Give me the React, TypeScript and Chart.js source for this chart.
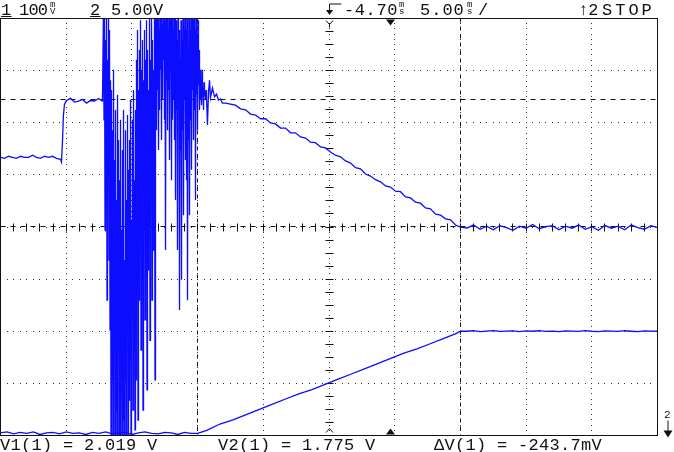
import React, { useEffect, useRef } from "react";
import { Chart, registerables } from "chart.js";
Chart.register(...registerables);

// ---- scope settings ----
const timeRange = [-29.7, 20.3]; // ms : delay -4.70 ms at centre, 5.00 ms/div
const msPerDiv = 5;
const timeDivs = 10;
const voltDivs = 8;
const ch1Range = [1.3753, 2.1753]; // V : 100 mV/div
const ch2Range = [5, 45]; // V : 5.00 V/div (ground below screen)

const voltCursors = [2.019, 1.7753]; // V1, V2 on channel 1
const timeCursors = [-14.7, 5.3]; // ms
const triggerTime = [0];
const centreTime = [-4.7];

// ---- channel 1: before the burst ----
const ch1PreTime = [
  -29.7, -29.4, -29.09, -28.79, -28.48, -28.18, -27.87, -27.57, -27.26, -26.96, -26.66, -26.35, -26.05, -25.74, -25.44, -25.13,
  -25.06, -24.98, -24.91, -24.83, -24.68,
  -24.37, -24.07, -23.76, -23.46, -23.15, -22.85, -22.55, -22.24, -21.94,
];
const ch1PreVolt = [
  1.909, 1.907, 1.911, 1.909, 1.907, 1.911, 1.909, 1.909, 1.913, 1.909, 1.907, 1.911, 1.909, 1.911, 1.907, 1.905,
  1.9, 1.942, 1.99, 2.011, 2.018,
  2.022, 2.015, 2.017, 2.02, 2.013, 2.018, 2.017, 2.022, 2.017,
];

// ---- channel 1: burst, sampled every 0.038 ms from -21.86 ms ----
const burstStart = -21.861;
const burstInterval = 0.038052;
const burstVolt = [
  2.201, 1.981, 2.192, 1.77, 2.134, 1.865, 2.201, 1.635, 2.096, 1.923, 2.192, 1.712, 2.153, 1.578, 2.057,
  1.367, 2.038, 1.482, 1.961, 1.357, 2.077, 1.635, 1.904, 1.367, 2.0, 1.424, 1.827,
  1.357, 2.029, 1.539, 1.942, 1.367, 1.865, 1.357, 1.981, 1.463, 1.77, 1.357, 1.923,
  1.405, 2.0, 1.357, 1.712, 1.482, 1.961, 1.367, 1.827, 1.578, 1.99, 1.357, 1.885, 1.443,
  1.942, 1.52, 2.019, 1.367, 1.789, 1.635, 1.981, 1.424, 2.038, 1.539, 1.865, 1.386, 2.0,
  1.482, 2.096, 1.731, 2.153, 1.405, 2.038, 1.635, 2.115, 1.827, 2.172,
  1.539, 2.077, 1.712, 2.134, 1.424, 2.057, 1.77, 2.153, 1.597, 2.096,
  1.865, 2.172, 1.463, 2.115, 1.693, 2.038, 1.789, 2.192, 1.558, 2.096,
  1.923, 2.201, 1.635, 2.134, 1.731, 2.077, 1.827, 2.192, 1.482, 2.115,
  2.201, 1.961, 2.172, 2.038, 2.201, 1.923, 2.153, 2.0, 2.192, 2.077,
  2.201, 1.942, 2.163, 2.019, 2.192, 2.096, 2.201, 1.981, 2.172, 1.731,
  2.192, 2.057, 2.201, 1.961, 2.153, 2.038, 2.201, 1.904, 2.172, 2.077,
  2.192, 1.865, 2.201, 1.981, 2.153, 2.019, 2.192, 1.942, 2.201, 1.827,
  2.172, 2.0, 2.134, 1.731, 2.192, 2.038, 2.153, 1.616, 2.096, 1.923,
  2.172, 1.674, 2.134, 1.961, 2.192, 1.798, 2.153, 2.019, 2.201, 1.904,
  2.153, 1.865, 2.192, 1.635, 2.115, 1.942, 2.201, 1.798, 2.153, 1.981,
  2.192, 1.885, 2.201, 2.038, 2.172, 1.942, 2.201, 2.0, 2.153, 1.827,
  2.192, 2.029, 2.134, 1.961, 2.172, 2.048, 2.115, 2.0, 2.077, 2.019,
  2.057, 2.009, 2.077, 2.023, 2.042, 2.0, 2.053, 2.027, 2.034, 2.019, 2.038, 2.025,
];

// ---- channel 1: after the burst ----
const ch1PostTime = [
  -13.95, -13.87, -13.79, -13.72, -13.57, -13.41, -13.26, -13.11, -12.96, -12.81,
  -12.58, -12.2, -11.82, -11.43, -11.05, -10.67, -10.29, -9.91, -9.53, -9.15, -8.77, -8.39, -8.01, -7.63, -7.25, -6.87,
  -6.49, -6.11, -5.73, -5.35, -4.97, -4.59, -4.21, -3.83, -3.44, -3.06, -2.68, -2.3, -1.92, -1.54, -1.16, -0.78,
  -0.4, -0.02, 0.36, 0.74, 1.12, 1.5, 1.88, 2.26, 2.64, 3.02, 3.41, 3.79, 4.17, 4.55, 4.93, 5.3,
  5.8, 6.3, 6.8, 7.3, 7.8, 8.3, 8.8, 9.3, 9.8, 10.3, 10.8, 11.3, 11.8, 12.3, 12.8,
  13.3, 13.8, 14.3, 14.8, 15.3, 15.8, 16.3, 16.8, 17.3, 17.8, 18.3, 18.8, 19.3, 19.8, 20.3,
];
const ch1PostVolt = [
  1.971, 2.034, 2.057, 2.023, 2.042, 2.025, 2.03, 2.019, 2.021, 2.013,
  2.013, 2.011, 2.009, 2.002, 2.0, 1.992, 1.99, 1.983, 1.983, 1.975, 1.973, 1.965, 1.965, 1.956, 1.956, 1.948,
  1.946, 1.938, 1.937, 1.929, 1.927, 1.919, 1.913, 1.91, 1.902, 1.898, 1.889, 1.887, 1.877, 1.873, 1.866, 1.862,
  1.854, 1.852, 1.844, 1.843, 1.833, 1.831, 1.823, 1.821, 1.812, 1.81, 1.8, 1.798, 1.791, 1.789, 1.779, 1.775,
  1.773, 1.779, 1.771, 1.777, 1.77, 1.778, 1.774, 1.769, 1.777, 1.773, 1.78, 1.772, 1.776, 1.778, 1.77,
  1.777, 1.773, 1.779, 1.771, 1.776, 1.769, 1.778, 1.773, 1.777, 1.77, 1.779, 1.774, 1.771, 1.778, 1.774,
];

// ---- channel 2 samples ----
const ch2Time = [
  -29.7, -29.2, -28.7, -28.2, -27.7, -27.2, -26.7, -26.2, -25.7, -25.2, -24.7, -24.2, -23.7, -23.2, -22.7,
  -22.2, -21.7, -21.2, -20.7, -20.2, -19.7, -19.2, -18.7, -18.2, -17.7, -17.2, -16.7, -16.2, -15.7, -15.2,
  -14.7, -14, -13, -12, -11, -10, -9, -8, -7, -6, -5, -4, -3, -2, -1, 0, 1, 2, 3, 4, 5, 5.3,
  5.8, 6.3, 6.8, 7.3, 7.8, 8.3, 8.8, 9.3, 9.8, 10.3, 10.8, 11.3, 11.8, 12.3, 12.8,
  13.3, 13.8, 14.3, 14.8, 15.3, 15.8, 16.3, 16.8, 17.3, 17.8, 18.3, 18.8, 19.3, 19.8, 20.3,
];
const ch2Volt = [
  5.25, 5.35, 5.15, 5.3, 5.2, 5.35, 5.1, 5.25, 5.3, 5.15, 5.35, 5.2, 5.25, 5.1, 5.3,
  5.2, 5.35, 5.15, 5.25, 5.3, 5.1, 5.25, 5.35, 5.2, 5.15, 5.3, 5.25, 5.1, 5.3, 5.2,
  5.2, 5.5, 6.1, 6.5, 7.0, 7.5, 8.0, 8.5, 9.0, 9.4, 9.9, 10.4, 10.9, 11.4, 11.9, 12.4, 12.9, 13.3, 13.8, 14.3, 14.8, 15.0,
  15.0, 15.05, 14.97, 15.02, 15.06, 14.98, 15.01, 15.04, 14.96, 15.03, 15.0, 15.05, 14.98, 15.02, 14.97,
  15.04, 15.01, 14.99, 15.06, 15.0, 14.97, 15.03, 15.02, 14.98, 15.05, 15.0, 14.96, 15.04, 15.01, 15.0,
];

const TRACE = "rgb(12,12,255)";
const INK = "#111";
const DOT = "#333";

const scopePlugin = {
  id: "scopeScreen",
  beforeDatasetsDraw(chart: any) {
    const { ctx, chartArea: a, scales } = chart;
    const sx = scales.x;
    const sy = scales.y;
    const W = a.right - a.left;
    const H = a.bottom - a.top;
    const divW = W / timeDivs;
    const divH = H / voltDivs;
    ctx.save();
    ctx.fillStyle = DOT;
    for (let k = 1; k < timeDivs; k++) {
      const px = Math.floor(sx.getPixelForValue(timeRange[0] + k * msPerDiv));
      for (let j = 1; j < voltDivs * 10; j++) ctx.fillRect(px, Math.floor(a.top + (j * divH) / 10), 1, 1);
    }
    for (let k = 1; k < voltDivs; k++) {
      const py = Math.floor(a.top + k * divH);
      for (let j = 1; j < timeDivs * 10; j++) ctx.fillRect(Math.floor(a.left + (j * divW) / 10), py, 1, 1);
    }
    const cx = Math.floor(sx.getPixelForValue(centreTime[0])) + 0.5;
    const cy = Math.floor(a.top + 4 * divH) + 0.5;
    ctx.strokeStyle = INK;
    ctx.lineWidth = 1;
    ctx.beginPath();
    for (let j = 1; j < timeDivs * 5; j++) {
      const px = Math.floor(a.left + (j * divW) / 5) + 0.5;
      ctx.moveTo(px, cy - 4);
      ctx.lineTo(px, cy + 4);
    }
    for (let j = 1; j < voltDivs * 4; j++) {
      const py = Math.floor(a.top + (j * divH) / 4) + 0.5;
      ctx.moveTo(cx - 4, py);
      ctx.lineTo(cx + 4, py);
    }
    ctx.stroke();
    ctx.setLineDash([5, 5]);
    ctx.beginPath();
    voltCursors.forEach((v) => {
      const py = Math.floor(sy.getPixelForValue(v)) + 0.5;
      ctx.moveTo(a.left, py);
      ctx.lineTo(a.right, py);
    });
    ctx.stroke();
    ctx.setLineDash([4, 4]);
    ctx.beginPath();
    timeCursors.forEach((t) => {
      const px = Math.floor(sx.getPixelForValue(t)) + 0.5;
      ctx.moveTo(px, a.top);
      ctx.lineTo(px, a.bottom);
    });
    ctx.stroke();
    ctx.restore();
  },
  afterDatasetsDraw(chart: any) {
    const { ctx, chartArea: a, scales } = chart;
    const sx = scales.x;
    ctx.save();
    ctx.strokeStyle = INK;
    ctx.fillStyle = INK;
    ctx.lineWidth = 1;
    ctx.strokeRect(a.left, a.top, a.right - a.left, a.bottom - a.top);
    triggerTime.forEach((t) => {
      const px = Math.floor(sx.getPixelForValue(t)) + 0.5;
      ctx.beginPath();
      ctx.moveTo(px - 4.5, a.top + 1);
      ctx.lineTo(px + 4.5, a.top + 1);
      ctx.lineTo(px, a.top + 7);
      ctx.closePath();
      ctx.fill();
      ctx.beginPath();
      ctx.moveTo(px - 4.5, a.bottom - 1);
      ctx.lineTo(px + 4.5, a.bottom - 1);
      ctx.lineTo(px, a.bottom - 7);
      ctx.closePath();
      ctx.fill();
    });
    centreTime.forEach((t) => {
      const px = Math.floor(sx.getPixelForValue(t)) + 0.5;
      ctx.beginPath();
      ctx.moveTo(px - 3.5, a.top + 2);
      ctx.lineTo(px, a.top + 6);
      ctx.lineTo(px + 3.5, a.top + 2);
      ctx.moveTo(px, a.top + 6);
      ctx.lineTo(px, a.top + 9);
      ctx.moveTo(px - 3.5, a.bottom - 3);
      ctx.lineTo(px, a.bottom - 7);
      ctx.lineTo(px + 3.5, a.bottom - 3);
      ctx.stroke();
      ctx.beginPath();
      ctx.moveTo(px, 4);
      ctx.lineTo(px + 12, 4);
      ctx.moveTo(px, 4);
      ctx.lineTo(px, 12);
      ctx.stroke();
      ctx.beginPath();
      ctx.moveTo(px - 3.5, 10);
      ctx.lineTo(px + 3.5, 10);
      ctx.lineTo(px, 15);
      ctx.closePath();
      ctx.fill();
    });
    const gx = a.right + 10.5;
    ctx.beginPath();
    ctx.moveTo(gx, a.bottom - 15);
    ctx.lineTo(gx, a.bottom - 2);
    ctx.stroke();
    ctx.beginPath();
    ctx.moveTo(gx - 4.5, a.bottom - 5);
    ctx.lineTo(gx + 4.5, a.bottom - 5);
    ctx.lineTo(gx, a.bottom + 2);
    ctx.closePath();
    ctx.fill();
    ctx.restore();
  },
};

const FONT = '"Liberation Mono", "DejaVu Sans Mono", monospace';

function Txt(props: { x: number; base: number; size?: number; u?: boolean; ls?: number; children: any }) {
  const size = props.size ?? 17;
  return (
    <span
      style={{
        position: "absolute",
        left: props.x,
        top: props.base - 0.7667 * size,
        fontFamily: FONT,
        fontSize: size,
        lineHeight: `${size}px`,
        letterSpacing: props.ls ?? 0.3,
        color: INK,
        whiteSpace: "pre",
        textDecoration: props.u ? "underline" : "none",
      }}
    >
      {props.children}
    </span>
  );
}

function Unit(props: { x: number; top: string; bottom: string }) {
  return (
    <>
      <Txt x={props.x} base={8} size={9} ls={0}>
        {props.top}
      </Txt>
      <Txt x={props.x} base={15} size={9} ls={0}>
        {props.bottom}
      </Txt>
    </>
  );
}

export default function App() {
  const ref = useRef<HTMLCanvasElement | null>(null);
  useEffect(() => {
    if (!ref.current) return;
    const ch1 = [
      ...ch1PreTime.map((t, i) => ({ x: t, y: ch1PreVolt[i] })),
      ...burstVolt.map((v, i) => ({ x: burstStart + i * burstInterval, y: v })),
      ...ch1PostTime.map((t, i) => ({ x: t, y: ch1PostVolt[i] })),
    ];
    const ch2 = ch2Time.map((t, i) => ({ x: t, y: ch2Volt[i] }));
    const chart = new Chart(ref.current, {
      type: "scatter",
      data: {
        datasets: [
          { label: "1", data: ch1, showLine: true, borderColor: TRACE, borderWidth: 1.3, pointRadius: 0, yAxisID: "y" },
          { label: "2", data: ch2, showLine: true, borderColor: TRACE, borderWidth: 1.3, pointRadius: 0, yAxisID: "y2" },
        ],
      },
      options: {
        animation: false,
        responsive: false,
        events: [],
        layout: { padding: { left: 0.5, right: 16.5, top: 18.5, bottom: 16.5 } },
        plugins: { legend: { display: false }, tooltip: { enabled: false } },
        scales: {
          x: { type: "linear", min: timeRange[0], max: timeRange[1], display: false },
          y: { type: "linear", min: ch1Range[0], max: ch1Range[1], display: false },
          y2: { type: "linear", min: ch2Range[0], max: ch2Range[1], display: false },
        },
      } as any,
      plugins: [scopePlugin],
    });
    return () => chart.destroy();
  }, []);

  return (
    <div style={{ position: "absolute", left: 0, top: 0, width: 674, height: 452, background: "#fff", overflow: "hidden" }}>
      <canvas ref={ref} width={674} height={452} style={{ position: "absolute", left: 0, top: 0 }} />
      <Txt x={1} base={15} u>1</Txt>
      <Txt x={19} base={15} ls={-0.8}>100</Txt>
      <Unit x={50} top="m" bottom="V" />
      <Txt x={90} base={15} u>2</Txt>
      <Txt x={111} base={15}>5.00V</Txt>
      <Txt x={344} base={15} ls={0.6}>-4.70</Txt>
      <Unit x={399} top="m" bottom="s" />
      <Txt x={420} base={15} ls={1}>5.00</Txt>
      <Unit x={467} top="m" bottom="s" />
      <Txt x={478} base={15}>/</Txt>
      <Txt x={578} base={15} ls={0}>↑2</Txt>
      <Txt x={602} base={15} ls={3}>STOP</Txt>
      <Txt x={0} base={450}>V1(1) = 2.019 V</Txt>
      <Txt x={218} base={450}>V2(1) = 1.775 V</Txt>
      <Txt x={434} base={450}>ΔV(1) = -243.7mV</Txt>
      <Txt x={664} base={418} size={11} ls={0}>2</Txt>
    </div>
  );
}
